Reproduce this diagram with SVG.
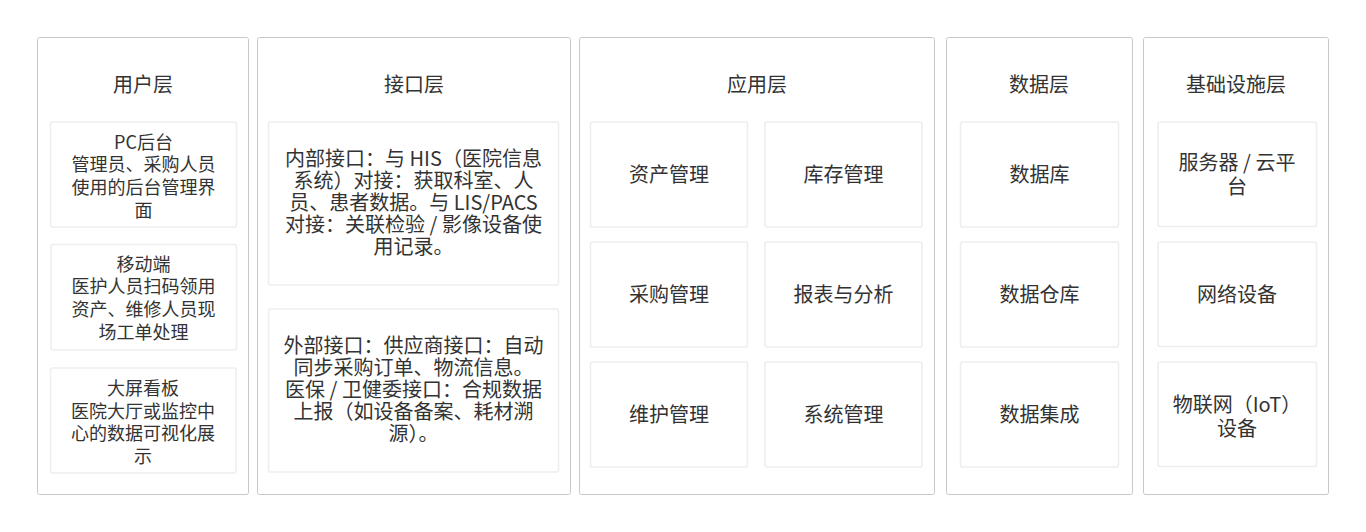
<svg xmlns="http://www.w3.org/2000/svg" width="1366" height="532" viewBox="0 0 1366 532">
<style>
.layer{fill:#ffffff;stroke:#c8c8c8;stroke-width:1}
.box{fill:#ffffff;stroke:#eeeeee;stroke-width:1.6}
text{font-family:"Noto Sans CJK SC","Noto Sans",sans-serif;fill:#333333;text-anchor:middle}
.t{font-size:20px}
.s{font-size:18px}
</style>
<rect width="1366" height="532" fill="#ffffff"/>
<g id="connectors"></g>

<g id="layer-user">
<rect class="layer" x="37.5" y="37.5" width="211" height="457" rx="2"/>
<text class="t" x="143" y="92">用户层</text>
</g>
<g id="node-pc">
<rect class="box" x="50.5" y="122" width="186" height="105" rx="2"/>
<text class="s" x="143.5" y="148.5">PC后台</text>
<text class="s" x="143.5" y="171.2">管理员、采购人员</text>
<text class="s" x="143.5" y="193.8">使用的后台管理界</text>
<text class="s" x="143.5" y="216.5">面</text>
</g>
<g id="node-mobile">
<rect class="box" x="51" y="244.5" width="185.5" height="105.5" rx="2"/>
<text class="s" x="143.5" y="270.5">移动端</text>
<text class="s" x="143.5" y="293.2">医护人员扫码领用</text>
<text class="s" x="143.5" y="315.8">资产、维修人员现</text>
<text class="s" x="143.5" y="338.5">场工单处理</text>
</g>
<g id="node-screen">
<rect class="box" x="50.5" y="368" width="185.5" height="105" rx="2"/>
<text class="s" x="143" y="395">大屏看板</text>
<text class="s" x="143" y="417.5">医院大厅或监控中</text>
<text class="s" x="143" y="440">心的数据可视化展</text>
<text class="s" x="143" y="462.5">示</text>
</g>

<g id="layer-interface">
<rect class="layer" x="257.5" y="37.5" width="313" height="457" rx="2"/>
<text class="t" x="414" y="92">接口层</text>
</g>
<g id="node-internal">
<rect class="box" x="268.5" y="122" width="290" height="163" rx="2"/>
<text class="t" x="413.5" y="165.5">内部接口：与 HIS（医院信息</text>
<text class="t" x="413.5" y="187.6">系统）对接：获取科室、人</text>
<text class="t" x="413.5" y="209.7">员、患者数据。与 LIS/PACS</text>
<text class="t" x="413.5" y="231.8">对接：关联检验 / 影像设备使</text>
<text class="t" x="413.5" y="253.9">用记录。</text>
</g>
<g id="node-external">
<rect class="box" x="268.5" y="309" width="290" height="163" rx="2"/>
<text class="t" x="413.5" y="352.7">外部接口：供应商接口：自动</text>
<text class="t" x="413.5" y="374.8">同步采购订单、物流信息。</text>
<text class="t" x="413.5" y="396.9">医保 / 卫健委接口：合规数据</text>
<text class="t" x="413.5" y="419">上报（如设备备案、耗材溯</text>
<text class="t" x="413.5" y="441.1">源）。</text>
</g>

<g id="layer-app">
<rect class="layer" x="579.5" y="37.5" width="355" height="457" rx="2"/>
<text class="t" x="757" y="92">应用层</text>
</g>
<g id="node-asset">
<rect class="box" x="590.5" y="122" width="157" height="105" rx="2"/>
<text class="t" x="669" y="181.5">资产管理</text>
</g>
<g id="node-inventory">
<rect class="box" x="765" y="122" width="157" height="105" rx="2"/>
<text class="t" x="843.5" y="181.5">库存管理</text>
</g>
<g id="node-purchase">
<rect class="box" x="590.5" y="242" width="157" height="105" rx="2"/>
<text class="t" x="669" y="301.7">采购管理</text>
</g>
<g id="node-report">
<rect class="box" x="765" y="242" width="157" height="105" rx="2"/>
<text class="t" x="843.5" y="301.7">报表与分析</text>
</g>
<g id="node-maintain">
<rect class="box" x="590.5" y="362" width="157" height="105" rx="2"/>
<text class="t" x="669" y="421.7">维护管理</text>
</g>
<g id="node-system">
<rect class="box" x="765" y="362" width="157" height="105" rx="2"/>
<text class="t" x="843.5" y="421.7">系统管理</text>
</g>

<g id="layer-data">
<rect class="layer" x="946.5" y="37.5" width="186" height="457" rx="2"/>
<text class="t" x="1039" y="92">数据层</text>
</g>
<g id="node-db">
<rect class="box" x="960.5" y="122" width="158" height="105" rx="2"/>
<text class="t" x="1039.5" y="181.5">数据库</text>
</g>
<g id="node-dw">
<rect class="box" x="960.5" y="242" width="158" height="105" rx="2"/>
<text class="t" x="1039.5" y="301.7">数据仓库</text>
</g>
<g id="node-di">
<rect class="box" x="960.5" y="362" width="158" height="105" rx="2"/>
<text class="t" x="1039.5" y="421.7">数据集成</text>
</g>

<g id="layer-infra">
<rect class="layer" x="1143.5" y="37.5" width="185" height="457" rx="2"/>
<text class="t" x="1236" y="92">基础设施层</text>
</g>
<g id="node-server">
<rect class="box" x="1158" y="122" width="158.5" height="104.5" rx="2"/>
<text class="t" x="1237" y="170">服务器 / 云平</text>
<text class="t" x="1237" y="194">台</text>
</g>
<g id="node-network">
<rect class="box" x="1158" y="242" width="158.5" height="104.5" rx="2"/>
<text class="t" x="1237" y="301.7">网络设备</text>
</g>
<g id="node-iot">
<rect class="box" x="1158" y="362" width="158.5" height="104.5" rx="2"/>
<text class="t" x="1237" y="412.2">物联网（IoT）</text>
<text class="t" x="1237" y="435.5">设备</text>
</g>
</svg>
